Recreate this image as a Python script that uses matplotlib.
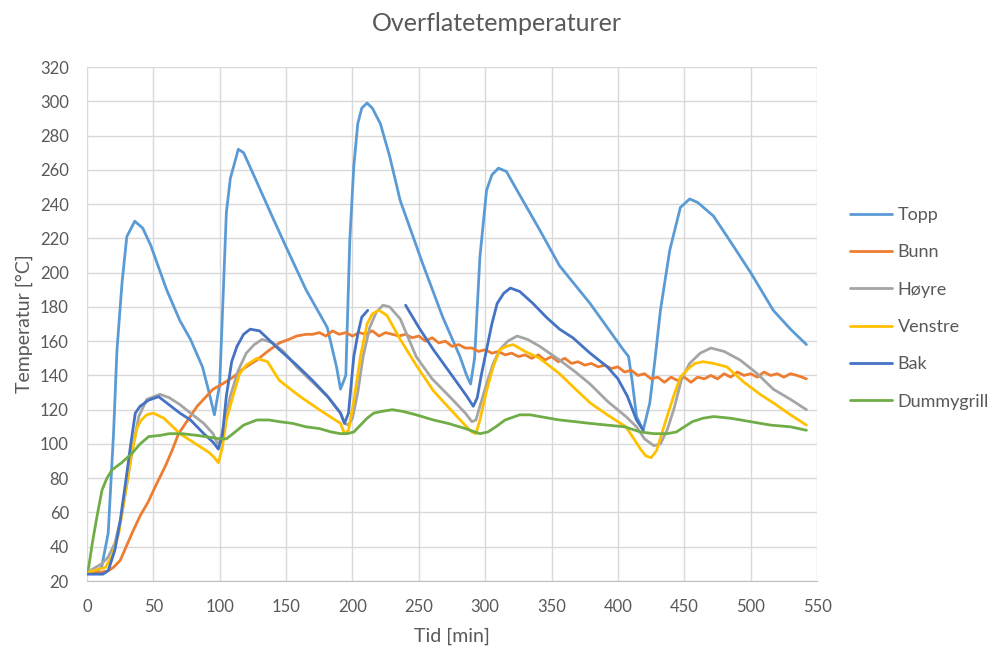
import numpy as np
import matplotlib
matplotlib.use("Agg")
import matplotlib.pyplot as plt

plt.rcParams['font.family'] = ['Lato', 'DejaVu Sans']

# (tid [min], temperatur [°C]) for each measuring point
topp_t = [0, 8, 11, 16, 20, 22.6, 26.4, 30, 36, 42, 48, 60, 70, 78, 87, 92, 96, 100, 103, 105, 108, 114, 118, 125, 140, 150, 165, 181, 188, 191, 195, 198, 201, 204, 207, 211, 215, 221, 228, 236, 253, 268, 281, 286, 289, 292, 296, 301, 305, 310, 316, 324, 341, 356, 379, 404, 408, 411, 414, 419, 424, 428, 432, 439, 447, 454, 460, 472, 484, 500, 517, 530, 542]
topp_v = [25, 26, 28, 48, 106, 155, 194, 221, 230, 226, 216, 190, 172, 161, 145, 130, 117, 135, 195, 235, 255, 272, 270, 258, 232, 215, 190, 168, 145, 132, 140, 219, 262, 287, 296, 299, 296, 287, 268, 242, 205, 174, 151, 140, 135, 150, 209, 248, 257, 261, 259, 248, 225, 204, 182, 155, 151, 135, 116, 108, 124, 150, 178, 213, 238, 243, 241, 233, 219, 200, 178, 167, 158]

bunn_t = [0, 10, 16, 20, 25, 34, 40, 46, 52, 59, 64, 69, 76, 83, 89, 95, 102, 110, 118, 128, 136, 145, 152, 158, 165, 170, 175, 180, 185, 190, 195, 200, 205, 210, 215, 220, 225, 230, 235, 240, 245, 250, 255, 260, 265, 270, 275, 280, 285, 290, 295, 300, 305, 310, 315, 320, 325, 330, 335, 340, 345, 350, 355, 360, 365, 370, 375, 380, 385, 390, 395, 400, 405, 410, 415, 420, 425, 430, 435, 440, 445, 450, 455, 460, 465, 470, 475, 480, 485, 490, 495, 500, 505, 510, 515, 520, 525, 530, 535, 542]
bunn_v = [25, 25, 26, 28, 32, 48, 58, 66, 76, 87, 96, 106, 114, 122, 127, 132, 135, 139, 144, 149, 154, 159, 161, 163, 164, 164, 165, 163, 166, 164, 165, 163, 165, 164, 166, 163, 165, 164, 163, 164, 162, 163, 160, 162, 159, 160, 157, 158, 156, 156, 154, 155, 153, 154, 152, 153, 151, 152, 150, 152, 149, 151, 148, 150, 147, 148, 146, 147, 145, 146, 144, 145, 142, 143, 140, 141, 138, 139, 136, 139, 137, 139, 136, 139, 138, 140, 138, 141, 139, 142, 140, 141, 139, 142, 140, 141, 139, 141, 140, 138]

hoyre_t = [0, 11, 16, 21, 26, 31, 35, 39, 45, 55, 62, 70, 78, 88, 95, 99, 103, 108, 114, 120, 126, 132, 140, 148, 158, 170, 182, 191, 194, 197, 200, 204, 208, 213, 218, 223, 228, 236, 248, 260, 274, 285, 290, 293, 296, 301, 306, 311, 317, 324, 332, 341, 356, 368, 379, 392, 406, 414, 420, 427, 432, 437, 442, 448, 454, 462, 470, 480, 492, 505, 517, 530, 542]
hoyre_v = [25, 30, 34, 42, 58, 81, 100, 116, 126, 129, 127, 123, 118, 112, 106, 99, 110, 128, 143, 153, 158, 161, 159, 154, 145, 136, 127, 118, 112, 111, 115, 130, 151, 168, 177, 181, 180, 173, 151, 138, 127, 118, 113, 114, 122, 135, 147, 155, 160, 163, 161, 157, 149, 142, 135, 125, 116, 110, 103, 99, 100, 108, 120, 138, 147, 153, 156, 154, 149, 141, 132, 126, 120]

venstre_t = [0, 14, 19, 24, 29, 34, 38, 41, 45, 50, 58, 70, 80, 92, 96, 99, 102, 105, 110, 115, 120, 128, 136, 145, 160, 175, 191, 194, 197, 201, 206, 211, 215, 220, 226, 236, 248, 261, 274, 286, 290, 293, 296, 301, 306, 311, 316, 321, 330, 341, 356, 368, 379, 392, 406, 412, 417, 421, 425, 429, 433, 437, 442, 447, 453, 458, 464, 472, 482, 495, 507, 517, 530, 542]
venstre_v = [25, 28, 35, 48, 72, 96, 110, 114, 117, 118, 115, 106, 101, 95, 92, 89, 98, 114, 128, 141, 146, 150, 148, 137, 128, 120, 112, 106, 108, 125, 151, 170, 176, 178, 175, 161, 146, 131, 120, 110, 107, 106, 114, 131, 145, 155, 157, 158, 154, 150, 141, 132, 124, 117, 110, 103, 97, 93, 92, 96, 106, 116, 128, 139, 144, 147, 148, 147, 145, 136, 129, 124, 117, 111]

# the logger lost this sensor between 212 and 240 min, hence the NaN
bak_t = [0, 12, 16, 21, 25, 29, 33, 36.4, 40, 46.5, 54, 60, 70, 78, 88, 95, 99, 102, 105, 109, 113, 118, 123, 130, 145, 158, 170, 181, 191, 194, 197, 201, 204, 207, 211.5, 225, 240, 250, 261, 274, 286, 291, 294, 297, 301, 305, 309, 314, 319, 326, 336, 346, 356, 366, 379, 392, 400, 407, 414, 419]
bak_v = [24, 24, 26, 38, 55, 77, 100, 118, 122, 125.6, 127.6, 124, 118, 114, 106, 101, 97, 105, 128, 148, 157, 164, 167, 166, 155, 146, 137, 128, 118, 112, 118, 151, 164, 174, 178, np.nan, 181, 168, 155, 141, 128, 122, 127, 140, 155, 170, 182, 188, 191, 189, 182, 174, 167, 162, 153, 145, 138, 128, 114, 108]

dummy_t = [0, 1.3, 4, 7.5, 11.3, 15, 18.8, 26, 33.9, 40, 46.5, 55, 62, 71.6, 83, 92, 100, 105, 110, 118, 128, 137, 145, 155, 165, 175, 184, 191, 196, 201, 206, 211, 216, 222, 230, 238, 248, 261, 272, 285, 296, 302, 308, 315, 326, 334, 341, 356, 368, 379, 392, 405, 417, 427, 437, 444, 450, 456, 464, 472, 485, 500, 515, 530, 542]
dummy_v = [26, 28, 42, 57.5, 73, 80, 84.8, 89, 94.5, 100, 104.3, 105, 106, 106, 105, 104, 103, 103, 106, 111, 114, 114, 113, 112, 110, 109, 107, 106, 106, 107, 111, 115, 118, 119, 120, 119, 117, 114, 112, 109, 106, 107, 110, 114, 117, 117, 116, 114, 113, 112, 111, 110, 107, 106, 106, 107, 110, 113, 115, 116, 115, 113, 111, 110, 108]

series = [
    ("Topp", topp_t, topp_v, "#5B9BD5"),
    ("Bunn", bunn_t, bunn_v, "#ED7D31"),
    ("Høyre", hoyre_t, hoyre_v, "#A5A5A5"),
    ("Venstre", venstre_t, venstre_v, "#FFC000"),
    ("Bak", bak_t, bak_v, "#4472C4"),
    ("Dummygrill", dummy_t, dummy_v, "#70AD47"),
]

x_ticks = list(range(0, 551, 50))
y_ticks = list(range(20, 321, 20))

fig = plt.figure(figsize=(9.94, 6.51), dpi=100)
ax = fig.add_axes([0.0875, 0.1075, 0.7345, 0.7895])

for name, t, v, col in series:
    ax.plot(t, v, color=col, lw=2.0, label=name, solid_joinstyle='round', solid_capstyle='round')

ax.set_xlim(0, 550)
ax.set_ylim(20, 320)
ax.set_xticks(x_ticks)
ax.set_yticks(y_ticks)
ax.grid(True, color='#D9D9D9', lw=1.0)
ax.set_axisbelow(True)
for s in ['top', 'right', 'left']:
    ax.spines[s].set_visible(False)
ax.spines['bottom'].set_color('#BFBFBF')
ax.tick_params(axis='both', length=0, labelsize=12, colors='#595959', pad=13)

ax.set_xlabel("Tid [min]", fontsize=14, color='#595959', labelpad=9)
ax.set_ylabel("Temperatur [°C]", fontsize=14, color='#595959', labelpad=5)
fig.suptitle("Overflatetemperaturer", fontsize=18, color='#595959', y=0.981)

leg = fig.legend(loc='upper left', bbox_to_anchor=(850 / 994, 1 - 207 / 651), frameon=False,
                 borderpad=0, borderaxespad=0, fontsize=13, handlelength=2.35,
                 labelspacing=1.18, handletextpad=0.3)
for txt in leg.get_texts():
    txt.set_color('#595959')

fig.savefig("out.png", dpi=100)
